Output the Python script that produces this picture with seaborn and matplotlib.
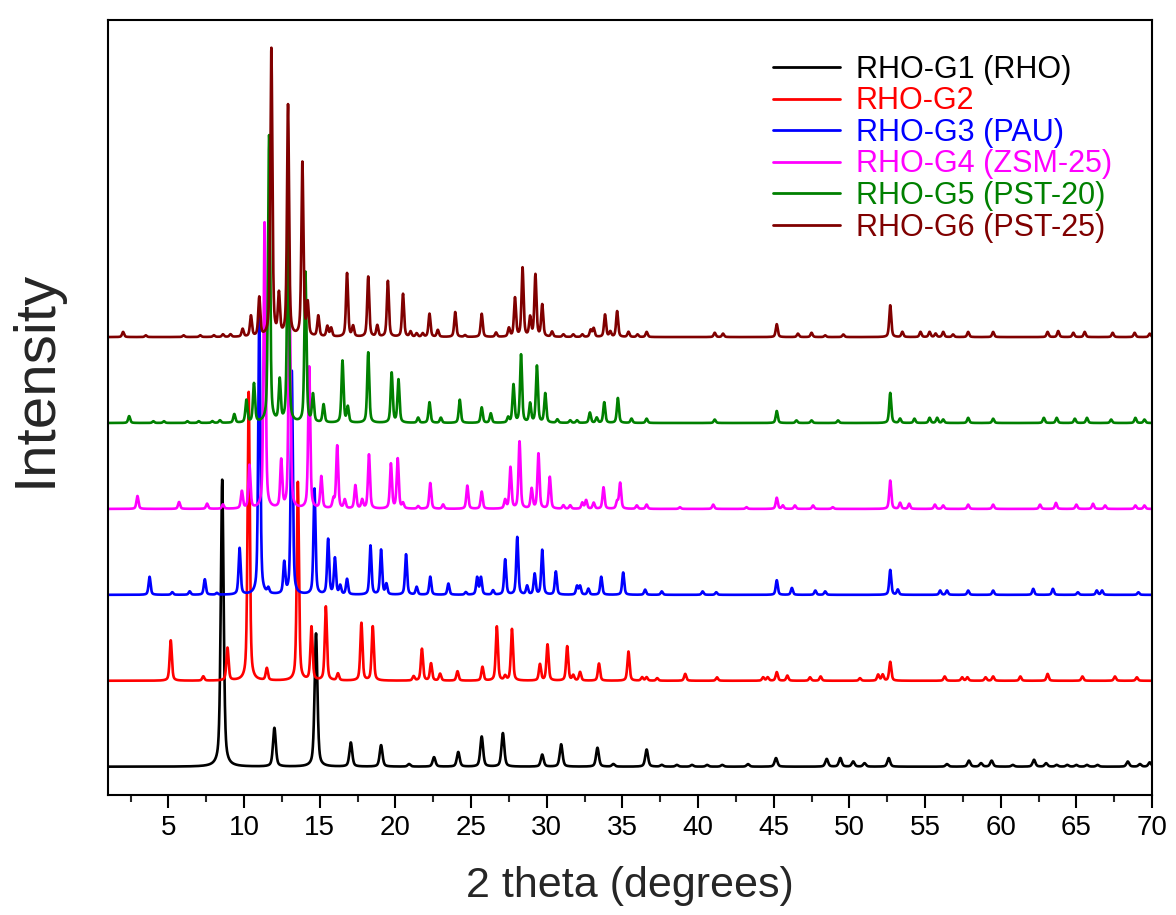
import matplotlib
matplotlib.use("Agg")
import matplotlib.pyplot as plt
from matplotlib.ticker import MultipleLocator
import numpy as np
import pandas as pd
import seaborn as sns

# peak positions (2 theta) and heights, per sample
labels = ["RHO-G1 (RHO)", "RHO-G2", "RHO-G3 (PAU)", "RHO-G4 (ZSM-25)",
          "RHO-G5 (PST-20)", "RHO-G6 (PST-25)"]
colors = ["#000000", "#ff0000", "#0000ff", "#ff00ff", "#008000", "#800000"]
offsets = [0, 1, 2, 3, 4, 5]
widths = [0.22, 0.17, 0.16, 0.16, 0.16, 0.16]

g1_pos = [8.55, 12.0, 14.75, 17.05, 19.05, 20.9, 22.55, 24.15, 25.7, 27.1, 29.7,
          30.95, 33.35, 34.4, 36.6, 37.6, 38.6, 39.6, 40.6, 41.6, 43.3, 45.15,
          48.5, 49.4, 50.25, 51.0, 52.6, 56.45, 57.9, 58.7, 59.4, 60.8, 62.2,
          63.0, 63.7, 64.4, 65.0, 65.7, 66.4, 68.4, 69.2, 69.85]
g1_int = [3.34, 0.45, 1.55, 0.28, 0.25, 0.03, 0.11, 0.17, 0.35, 0.39, 0.14,
          0.26, 0.22, 0.03, 0.2, 0.02, 0.02, 0.02, 0.02, 0.02, 0.03, 0.1,
          0.09, 0.1, 0.06, 0.04, 0.1, 0.03, 0.07, 0.04, 0.07, 0.02, 0.08,
          0.04, 0.02, 0.02, 0.02, 0.02, 0.02, 0.06, 0.03, 0.05]

g2_pos = [5.15, 7.3, 8.9, 10.3, 11.5, 13.55, 14.45, 15.4, 16.2, 17.75, 18.5,
          21.2, 21.75, 22.35, 22.95, 24.1, 25.75, 26.7, 27.25, 27.7, 29.55,
          30.05, 31.35, 31.75, 32.2, 33.45, 35.4, 36.3, 36.6, 37.3, 39.15,
          41.25, 44.3, 44.6, 45.2, 45.9, 47.4, 48.1, 50.7, 51.9, 52.2, 52.7,
          56.3, 57.45, 57.8, 59.0, 59.5, 61.3, 63.1, 65.4, 67.55, 69.0]
g2_int = [0.47, 0.05, 0.38, 3.36, 0.14, 2.31, 0.62, 0.86, 0.08, 0.67, 0.63,
          0.05, 0.37, 0.2, 0.08, 0.11, 0.16, 0.63, 0.05, 0.6, 0.19,
          0.42, 0.4, 0.06, 0.1, 0.2, 0.34, 0.04, 0.04, 0.03, 0.08,
          0.04, 0.04, 0.04, 0.1, 0.06, 0.04, 0.05, 0.03, 0.07, 0.07, 0.22,
          0.05, 0.04, 0.04, 0.04, 0.05, 0.05, 0.08, 0.05, 0.05, 0.04]

g3_pos = [3.75, 5.25, 6.4, 7.4, 8.2, 9.7, 11.0, 11.6, 12.65, 13.15, 14.65,
          15.55, 16.0, 16.35, 16.8, 18.35, 19.05, 19.4, 20.7, 21.4, 22.3, 23.5,
          24.65, 25.4, 25.65, 26.45, 27.25, 28.05, 28.7, 29.2, 29.7, 30.6,
          32.0, 32.2, 32.75, 33.6, 35.05, 36.5, 37.6, 40.3, 41.2, 45.2, 46.2,
          47.75, 48.4, 52.7, 53.2, 56.0, 56.45, 57.85, 59.5, 62.15, 63.45,
          65.1, 66.35, 66.7, 69.1]
g3_int = [0.21, 0.03, 0.04, 0.18, 0.02, 0.54, 3.35, 0.06, 0.36, 2.6, 1.23,
          0.64, 0.42, 0.1, 0.18, 0.57, 0.52, 0.12, 0.47, 0.09, 0.21, 0.13,
          0.03, 0.2, 0.2, 0.05, 0.41, 0.67, 0.1, 0.24, 0.52, 0.27,
          0.1, 0.1, 0.07, 0.21, 0.26, 0.06, 0.04, 0.04, 0.03, 0.17, 0.08,
          0.05, 0.04, 0.29, 0.06, 0.05, 0.05, 0.05, 0.05, 0.07, 0.07,
          0.03, 0.05, 0.05, 0.03]

g4_pos = [2.95, 5.7, 7.55, 8.6, 9.85, 10.35, 11.35, 12.45, 13.0, 14.3, 15.1,
          15.9, 16.15, 16.65, 17.35, 17.8, 18.25, 19.7, 20.15, 20.5, 21.5, 22.3,
          23.15, 24.75, 25.7, 27.25, 27.6, 28.2, 29.0, 29.45, 30.2, 31.1,
          31.55, 32.35, 32.6, 33.1, 33.75, 34.65, 34.85, 35.95, 36.6, 38.8,
          41.0, 43.2, 45.2, 45.6, 46.4, 47.6, 48.9, 52.7, 53.35, 53.95, 55.65,
          56.2, 57.85, 59.5, 62.6, 63.65, 65.0, 66.1, 66.9, 68.9, 69.5]
g4_int = [0.15, 0.08, 0.06, 0.05, 0.2, 0.5, 3.33, 0.55, 2.55, 1.65, 0.37,
          0.1, 0.73, 0.1, 0.27, 0.1, 0.63, 0.52, 0.58, 0.06, 0.03, 0.3,
          0.05, 0.27, 0.2, 0.1, 0.48, 0.78, 0.23, 0.64, 0.37, 0.04,
          0.04, 0.07, 0.1, 0.07, 0.25, 0.08, 0.3, 0.04, 0.05, 0.02,
          0.05, 0.02, 0.13, 0.04, 0.04, 0.04, 0.02, 0.33, 0.07, 0.06, 0.05,
          0.04, 0.05, 0.05, 0.05, 0.07, 0.05, 0.06, 0.04, 0.04, 0.04]

g5_pos = [2.4, 4.0, 4.7, 6.25, 7.0, 7.9, 8.4, 9.35, 10.15, 10.65, 11.65, 12.35,
          12.9, 14.05, 14.55, 15.25, 16.5, 16.85, 18.2, 19.75, 20.2, 21.5,
          22.25, 23.0, 24.25, 25.7, 26.3, 27.45, 27.8, 28.3, 28.9, 29.35,
          29.9, 30.7, 31.55, 32.0, 32.85, 33.3, 33.8, 34.7, 35.6, 36.6, 41.1,
          45.2, 46.5, 47.5, 49.25, 52.7, 53.35, 54.3, 55.3, 55.8, 56.2, 57.85,
          59.5, 62.85, 63.7, 64.9, 65.7, 67.3, 68.9, 69.5]
g5_int = [0.08, 0.02, 0.02, 0.02, 0.02, 0.02, 0.03, 0.1, 0.26, 0.45, 3.34, 0.48,
          2.4, 1.75, 0.32, 0.21, 0.72, 0.18, 0.82, 0.58, 0.5, 0.06,
          0.24, 0.06, 0.27, 0.18, 0.11, 0.06, 0.44, 0.79, 0.22, 0.66,
          0.34, 0.04, 0.03, 0.03, 0.12, 0.06, 0.24, 0.29, 0.05, 0.05, 0.04,
          0.14, 0.03, 0.03, 0.03, 0.35, 0.05, 0.05, 0.06, 0.06, 0.04, 0.06,
          0.05, 0.06, 0.06, 0.05, 0.06, 0.04, 0.06, 0.04]

g6_pos = [2.0, 3.5, 6.0, 7.1, 8.0, 8.6, 9.1, 9.9, 10.45, 11.0, 11.8, 12.3, 12.9,
          13.85, 14.2, 14.9, 15.5, 15.75, 16.8, 17.2, 18.2, 18.8, 19.5, 20.5,
          21.0, 21.4, 21.8, 22.25, 22.8, 23.95, 24.6, 25.7, 26.65, 27.5, 27.9,
          28.4, 28.9, 29.25, 29.7, 30.35, 31.1, 31.75, 32.35, 32.9, 33.1,
          33.85, 34.2, 34.65, 35.4, 36.0, 36.6, 41.1, 41.65, 45.2, 46.6, 47.5,
          48.4, 49.6, 52.7, 53.5, 54.7, 55.3, 55.7, 56.2, 56.85, 57.85, 59.5,
          63.1, 63.8, 64.8, 65.55, 67.4, 68.85, 69.85]
g6_int = [0.06, 0.02, 0.02, 0.02, 0.02, 0.03, 0.03, 0.09, 0.24, 0.45, 3.35, 0.47, 2.69,
          2.02, 0.37, 0.24, 0.12, 0.1, 0.74, 0.12, 0.7, 0.13, 0.65, 0.5,
          0.06, 0.04, 0.04, 0.27, 0.08, 0.29, 0.02, 0.27, 0.05, 0.1, 0.45,
          0.8, 0.22, 0.72, 0.37, 0.06, 0.03, 0.03, 0.03, 0.08, 0.1,
          0.26, 0.06, 0.3, 0.06, 0.03, 0.06, 0.05, 0.04, 0.15, 0.04, 0.05,
          0.02, 0.03, 0.37, 0.06, 0.06, 0.06, 0.04, 0.06, 0.03, 0.06, 0.06,
          0.06, 0.07, 0.05, 0.06, 0.05, 0.05, 0.04]

peak_pos = [g1_pos, g2_pos, g3_pos, g4_pos, g5_pos, g6_pos]
peak_int = [g1_int, g2_int, g3_int, g4_int, g5_int, g6_int]


def pattern(two_theta, pos, hts, fwhm, eta=0.5):
    """Sum of pseudo-Voigt peaks, each normalised to its own height."""
    y = np.zeros_like(two_theta)
    for p, h in zip(pos, hts):
        d = (two_theta - p) / fwhm
        gauss = np.exp(-4 * np.log(2) * d ** 2)
        lorentz = 1 / (1 + 4 * d ** 2)
        y += h * (eta * lorentz + (1 - eta) * gauss)
    return y


two_theta = np.arange(1.0, 70.0, 0.01)
frames = []
for lab, pos, hts, off, w in zip(labels, peak_pos, peak_int, offsets, widths):
    frames.append(pd.DataFrame({
        "two_theta": two_theta,
        "intensity": pattern(two_theta, pos, hts, w) + off,
        "sample": lab,
    }))
df = pd.concat(frames, ignore_index=True)

sns.set_style("ticks")
plt.rcParams["font.family"] = ["Liberation Sans", "DejaVu Sans"]

fig = plt.figure(figsize=(11.76, 9.15), dpi=100)
ax = fig.add_axes([0.0918, 0.1311, 0.8878, 0.8470])

sns.lineplot(data=df, x="two_theta", y="intensity", hue="sample",
             hue_order=labels, palette=colors, estimator=None, sort=False,
             linewidth=1.9, ax=ax)

ax.set_xlim(1, 70)
ax.set_ylim(-0.33, 8.69)
ax.set_yticks([])
ax.xaxis.set_major_locator(MultipleLocator(5))
ax.xaxis.set_minor_locator(MultipleLocator(2.5))
ax.tick_params(axis="x", which="major", direction="out", length=9.5,
               width=1.5, pad=5, labelsize=20, colors="black")
ax.tick_params(axis="x", which="minor", direction="out", length=5, width=1.5)
for sp in ax.spines.values():
    sp.set_visible(True)
    sp.set_linewidth(1.5)
    sp.set_color("black")

ax.set_xlabel("2 theta (degrees)", fontsize=31, labelpad=18)
ax.set_ylabel("Intensity", fontsize=42)
ax.yaxis.set_label_coords(-0.043, 0.538)

handles, _ = ax.get_legend_handles_labels()
for h in handles:
    h.set_linewidth(2.0)
ax.legend(handles=handles, labels=labels, loc="upper left",
          bbox_to_anchor=(0.637, 0.955), frameon=False, fontsize=22,
          labelcolor="linecolor", handlelength=2.2, handletextpad=0.5,
          labelspacing=0.05, borderpad=0, borderaxespad=0)

fig.savefig("out.png", dpi=100)
